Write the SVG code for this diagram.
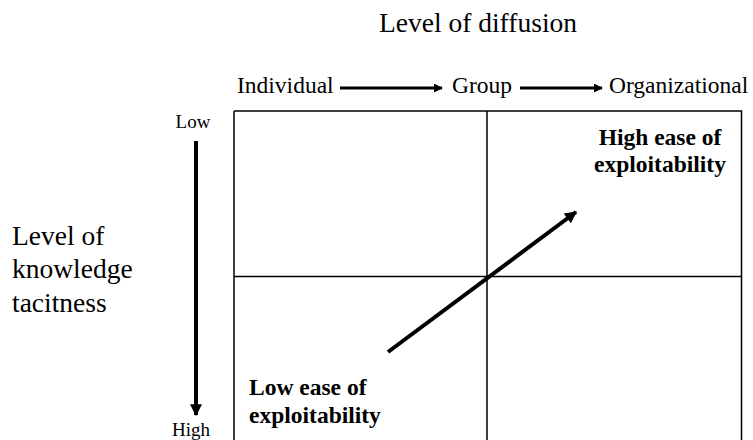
<svg xmlns="http://www.w3.org/2000/svg" width="753" height="440" viewBox="0 0 753 440">
<style>
text{font-family:"Liberation Serif","Times New Roman",serif;fill:#000}
.t{font-size:27.5px}
.s{font-size:23.5px}
.m{font-size:19px}
.b{font-size:23.5px;font-weight:bold}
.ln{stroke:#000;stroke-width:1.5;fill:none}
.ar{stroke:#000;stroke-width:4;fill:none}
</style>
<defs>
<marker id="ah" viewBox="0 0 10 10" refX="9" refY="5" markerWidth="3.2" markerHeight="3" orient="auto" markerUnits="strokeWidth">
<path d="M0,0 L10,5 L0,10 Z" fill="#000"/>
</marker>
</defs>
<g id="grid">
<path class="ln" d="M234,111 H741.5 V440 M234,111 V440 M487,111 V440 M234,276.5 H741.5"/>
</g>
<g id="connectors">
<line class="ar" x1="340" y1="88" x2="442" y2="88" marker-end="url(#ah)" style="stroke-width:3"/>
<line class="ar" x1="520" y1="88" x2="602" y2="88" marker-end="url(#ah)" style="stroke-width:3"/>
<line class="ar" x1="196" y1="141" x2="196" y2="415" marker-end="url(#ah)"/>
<line class="ar" x1="388" y1="352" x2="576" y2="212" marker-end="url(#ah)"/>
</g>
<g id="title"><text class="t" x="478" y="32" text-anchor="middle">Level of diffusion</text></g>
<g id="individual"><text class="s" x="237" y="93">Individual</text></g>
<g id="group"><text class="s" x="452" y="93">Group</text></g>
<g id="organizational"><text class="s" x="609" y="93">Organizational</text></g>
<g id="ylabel"><text class="t" x="12" y="245">Level of</text><text class="t" x="12" y="278">knowledge</text><text class="t" x="12" y="312">tacitness</text></g>
<g id="low"><text class="m" x="193" y="128" text-anchor="middle">Low</text></g>
<g id="high"><text class="m" x="191" y="436" text-anchor="middle">High</text></g>
<g id="high-ease"><text class="b" x="660" y="145" text-anchor="middle">High ease of</text><text class="b" x="660" y="172" text-anchor="middle">exploitability</text></g>
<g id="low-ease"><text class="b" x="249" y="395">Low ease of</text><text class="b" x="249" y="423">exploitability</text></g>
</svg>
